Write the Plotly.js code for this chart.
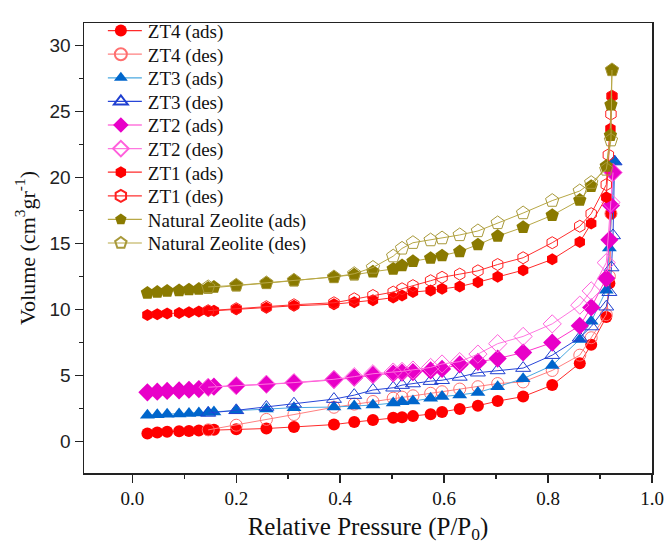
<!DOCTYPE html>
<html>
<head>
<meta charset="utf-8">
<script src="https://cdn.plot.ly/plotly-3.0.1.min.js"></script>
<style>html,body{margin:0;padding:0;background:#fff;}#chart{width:665px;height:547px;}</style>
</head>
<body>
<div id="chart"></div>
<script>
// Adsorption branch relative pressures
const xAds = [0.029, 0.048, 0.067, 0.090, 0.109, 0.128, 0.146, 0.157, 0.200, 0.258, 0.311, 0.388, 0.427, 0.463, 0.502, 0.519, 0.540, 0.574, 0.596, 0.630, 0.665, 0.703, 0.752, 0.808, 0.861, 0.883, 0.912];
// Desorption branch relative pressures (high to low)
const xDesBase = [0.912, 0.883, 0.861, 0.808, 0.752, 0.703, 0.665, 0.630, 0.596, 0.574, 0.540, 0.519, 0.502, 0.463, 0.427, 0.388, 0.311, 0.258, 0.200, 0.146];

// ZT4
const zt4AdsX = xAds.concat([0.918, 0.921]);
const zt4AdsY = [0.59, 0.67, 0.72, 0.77, 0.79, 0.82, 0.85, 0.87, 0.92, 0.97, 1.09, 1.27, 1.46, 1.62, 1.78, 1.83, 1.91, 2.06, 2.23, 2.45, 2.70, 3.05, 3.39, 4.26, 5.92, 7.31, 9.42, 11.98, 17.25];
const zt4DesX = [0.921, 0.918].concat(xDesBase);
const zt4DesY = [17.25, 12.5, 9.6, 7.85, 6.53, 5.37, 4.5, 4.38, 4.14, 3.96, 3.76, 3.64, 3.45, 3.35, 3.27, 3.02, 2.82, 2.58, 2.03, 1.66, 1.22, 0.87];

// ZT3
const zt3AdsX = xAds.concat([0.918, 0.928]);
const zt3AdsY = [1.98, 2.02, 2.05, 2.08, 2.11, 2.14, 2.18, 2.22, 2.33, 2.45, 2.55, 2.60, 2.68, 2.75, 2.90, 3.00, 3.05, 3.27, 3.39, 3.52, 3.70, 4.14, 4.75, 5.75, 7.72, 9.09, 11.45, 14.65, 21.2];
const zt3DesX = [0.928, 0.925, 0.922, 0.918].concat(xDesBase);
const zt3DesY = [21.2, 15.6, 13.17, 11.3, 10.2, 8.7, 7.85, 6.53, 5.55, 5.37, 5.2, 4.88, 4.63, 4.56, 4.38, 4.26, 4.06, 3.89, 3.5, 3.2, 2.85, 2.6, 2.35, 2.15];

// ZT2
const zt2AdsX = xAds.concat([0.918, 0.921, 0.925]);
const zt2AdsY = [3.71, 3.76, 3.82, 3.86, 3.91, 3.96, 4.08, 4.14, 4.21, 4.31, 4.43, 4.66, 4.82, 5.03, 5.14, 5.20, 5.25, 5.37, 5.49, 5.83, 6.02, 6.27, 6.73, 7.48, 8.76, 10.15, 12.35, 15.27, 17.87, 20.37];
const zt2DesX = [0.925, 0.921].concat(xDesBase);
const zt2DesY = [20.37, 18.1, 13.54, 11.4, 10.32, 8.9, 7.95, 7.4, 6.61, 6.04, 5.86, 5.6, 5.4, 5.3, 5.25, 5.12, 4.9, 4.7, 4.45, 4.33, 4.22, 4.1];

// ZT1
const zt1AdsX = xAds.concat([0.920, 0.923]);
const zt1AdsY = [9.58, 9.63, 9.68, 9.73, 9.78, 9.83, 9.87, 9.90, 10.0, 10.13, 10.27, 10.39, 10.54, 10.69, 10.89, 11.06, 11.31, 11.43, 11.56, 11.73, 12.06, 12.47, 12.97, 13.79, 15.1, 16.51, 18.49, 23.68, 26.16];
const zt1DesX = [0.923, 0.921, 0.916].concat(xDesBase);
const zt1DesY = [26.16, 24.8, 21.7, 19.45, 17.25, 16.3, 15.05, 13.91, 13.4, 12.92, 12.67, 12.43, 12.17, 11.8, 11.56, 11.31, 11.05, 10.8, 10.5, 10.35, 10.2, 10.05, 9.9];

// Natural Zeolite
const nzAdsX = xAds.concat([0.920, 0.921, 0.923]);
const nzAdsY = [11.24, 11.31, 11.39, 11.43, 11.49, 11.54, 11.61, 11.69, 11.80, 11.98, 12.18, 12.43, 12.62, 12.85, 13.06, 13.32, 13.64, 13.88, 14.07, 14.38, 14.90, 15.55, 16.22, 17.13, 18.28, 19.33, 20.86, 23.19, 25.5, 28.14];
const nzDesX = [0.923, 0.921].concat(xDesBase);
const nzDesY = [28.14, 22.82, 20.6, 19.6, 18.97, 18.24, 17.3, 16.55, 15.94, 15.64, 15.40, 15.25, 15.05, 14.62, 14.03, 13.17, 12.7, 12.45, 12.2, 12.0, 11.82, 11.7];

const names = ['ZT4 (ads)', 'ZT4 (des)', 'ZT3 (ads)', 'ZT3 (des)', 'ZT2 (ads)', 'ZT2 (des)', 'ZT1 (ads)', 'ZT1 (des)', 'Natural Zeolite (ads)', 'Natural Zeolite (des)'];

function tr(name, x, y, symbol, mcolor, lcolor, size) {
  const open = symbol.indexOf('open') >= 0;
  return {
    type: 'scatter', mode: 'lines+markers', name: name, x: x, y: y,
    line: {color: lcolor, width: 1},
    marker: {symbol: symbol, size: size, color: mcolor, line: {color: mcolor, width: open ? 1 : 0}}
  };
}

const data = [
  tr(names[0], zt4AdsX, zt4AdsY, 'circle', '#ff0000', '#ff2a2a', 12),
  tr(names[1], zt4DesX, zt4DesY, 'circle-open', '#ff6f6f', '#ff8080', 12),
  tr(names[2], zt3AdsX, zt3AdsY, 'triangle-up', '#0066cc', '#4aa8e0', 13),
  tr(names[3], zt3DesX, zt3DesY, 'triangle-up-open', '#1f3fd0', '#2846d8', 13),
  tr(names[4], zt2AdsX, zt2AdsY, 'diamond', '#e800c8', '#ff33cc', 14),
  tr(names[5], zt2DesX, zt2DesY, 'diamond-open', '#ff5fdc', '#ff77e0', 14),
  tr(names[6], zt1AdsX, zt1AdsY, 'hexagon', '#ff0000', '#ff2a2a', 12),
  tr(names[7], zt1DesX, zt1DesY, 'hexagon-open', '#ff2020', '#ff3030', 12),
  tr(names[8], nzAdsX, nzAdsY, 'pentagon', '#8a7a00', '#b8a846', 14),
  tr(names[9], nzDesX, nzDesY, 'pentagon-open', '#a8993a', '#b8a846', 14)
];

const serif = '"Liberation Serif", "Times New Roman", Times, "DejaVu Serif", serif';
const sans = '"Liberation Sans", Arial, Helvetica, sans-serif';

const layout = {
  width: 665, height: 547,
  margin: {l: 84, r: 13, t: 14, b: 74},
  paper_bgcolor: '#ffffff', plot_bgcolor: '#ffffff',
  font: {family: serif, color: '#111'},
  showlegend: true,
  legend: {
    x: 0.042, y: 1.025, xanchor: 'left', yanchor: 'top',
    bgcolor: 'rgba(0,0,0,0)', borderwidth: 0,
    font: {family: serif, size: 19, color: '#111'},
    tracegroupgap: 0, itemsizing: 'constant'
  },
  xaxis: {
    range: [-0.093, 1.0], dtick: 0.2, tick0: 0, tickformat: '.1f',
    ticks: 'outside', ticklen: 8, tickwidth: 1.5, tickcolor: '#222',
    minor: {dtick: 0.1, ticks: 'outside', ticklen: 4, tickwidth: 1.5, tickcolor: '#222'},
    showline: true, linecolor: '#222', linewidth: 1.5, mirror: true,
    showgrid: false, zeroline: false,
    tickfont: {family: serif, size: 19, color: '#111'},
    title: {text: 'Relative Pressure (P/P<sub>0</sub>)', font: {family: serif, size: 25, color: '#111'}, standoff: 9}
  },
  yaxis: {
    range: [-2.4, 31.7], dtick: 5, tick0: 0,
    ticks: 'outside', ticklen: 8, tickwidth: 1.5, tickcolor: '#222',
    minor: {dtick: 2.5, ticks: 'outside', ticklen: 4, tickwidth: 1.5, tickcolor: '#222'},
    showline: true, linecolor: '#222', linewidth: 1.5, mirror: true,
    showgrid: false, zeroline: false,
    tickfont: {family: sans, size: 19, color: '#222'},
    title: {text: 'Volume (cm<sup>3</sup>gr<sup>-1</sup>)', font: {family: serif, size: 22, color: '#111'}, standoff: 8}
  }
};

Plotly.newPlot('chart', data, layout, {displayModeBar: false, staticPlot: true}).then(function (gd) {
  // tighten legend row spacing and lengthen legend sample lines as in the reference
  const items = gd.querySelectorAll('.legend .traces');
  let y0 = null;
  items.forEach(function (g, i) {
    const m = /translate\(\s*([-\d.]+)[ ,]+([-\d.]+)\s*\)/.exec(g.getAttribute('transform') || '');
    if (!m) return;
    if (y0 === null) { y0 = parseFloat(m[2]); }
    g.setAttribute('transform', 'translate(' + parseFloat(m[1]) + ',' + (y0 + i * 23.6) + ')');
    g.querySelectorAll('.legendlines path').forEach(function (p) {
      p.setAttribute('d', 'M-9,0h43');
      p.style.strokeWidth = '1.2px';
    });
    g.querySelectorAll('.legendpoints path').forEach(function (p) { p.setAttribute('transform', 'translate(13,0)'); });
  });
});
</script>
</body>
</html>
